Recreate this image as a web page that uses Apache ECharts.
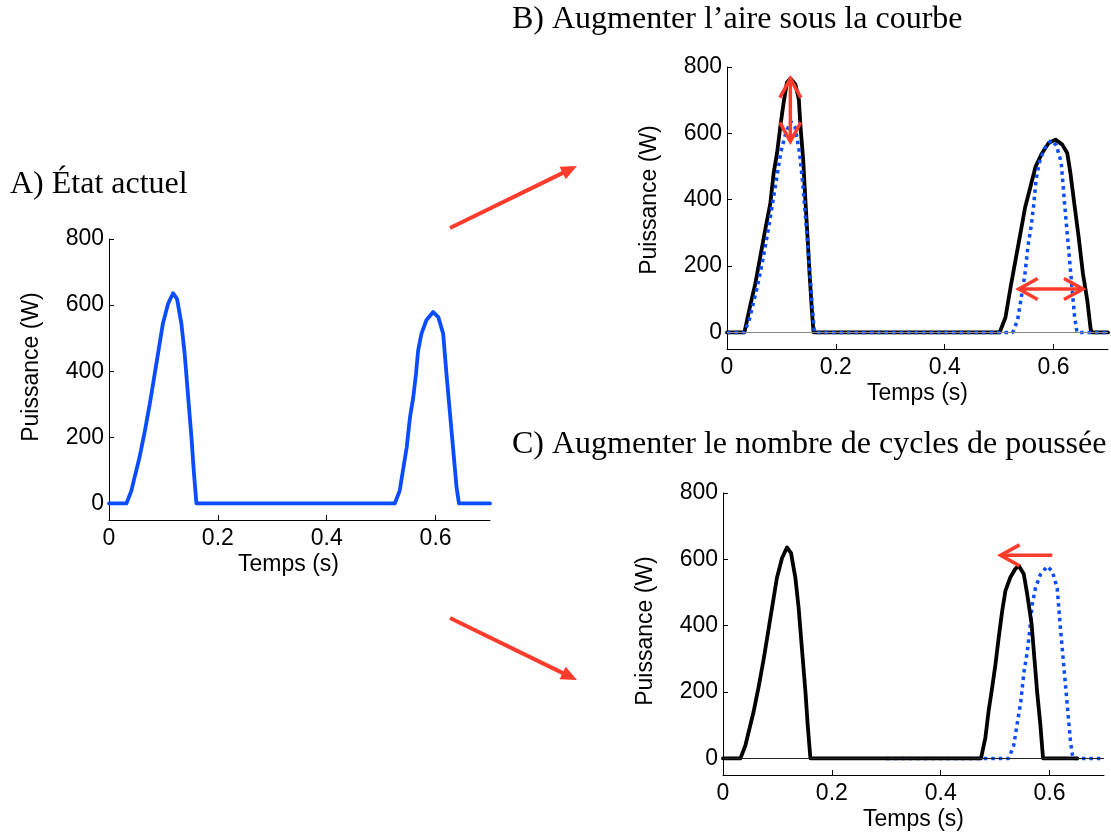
<!DOCTYPE html>
<html lang="fr">
<head>
<meta charset="utf-8">
<title>Puissance de poussée</title>
<script src="https://cdn.jsdelivr.net/npm/echarts@6.0.0/dist/echarts.min.js"></script>
<style>
  html, body { margin: 0; padding: 0; background: #fff; }
  #chart { width: 1111px; height: 839px; }
</style>
</head>
<body>
<div id="chart"></div>
<script>
// Power (W) against time (s) over one stroke cycle, two pushes per cycle.

// Current pattern: first and second push.
const actuelPoussee1 = [
  [0, 0], [0.032, 0], [0.041, 38], [0.047, 79], [0.056, 139], [0.066, 220],
  [0.075, 302], [0.081, 362], [0.090, 453], [0.099, 544], [0.1085, 604],
  [0.1176, 636], [0.125, 619], [0.133, 544], [0.139, 453], [0.145, 331],
  [0.1515, 200], [0.1557, 99], [0.1606, 0]
];
const actuelPoussee2 = [
  [0.3, 0], [0.525, 0], [0.534, 38], [0.540, 99], [0.547, 170], [0.553, 261],
  [0.559, 321], [0.564, 392], [0.568, 463], [0.574, 513], [0.583, 554],
  [0.5956, 579], [0.605, 564], [0.614, 513], [0.620, 392], [0.626, 281],
  [0.632, 170], [0.6386, 48], [0.643, 0], [0.7, 0]
];

// B) larger area under the curve: higher first push, wider second push.
const airePoussee1 = [
  [0, 0], [0.032, 0], [0.042, 76], [0.052, 147], [0.061, 227], [0.070, 308],
  [0.0796, 389], [0.0857, 480], [0.092, 541], [0.098, 621], [0.104, 692],
  [0.110, 753], [0.1164, 765], [0.1256, 748], [0.132, 702], [0.135, 621],
  [0.140, 520], [0.144, 399], [0.148, 288], [0.152, 167], [0.156, 66],
  [0.159, 0]
];
const airePoussee2 = [
  [0.501, 0], [0.5116, 45], [0.521, 136], [0.530, 217], [0.539, 298],
  [0.548, 379], [0.5575, 439], [0.567, 500], [0.579, 541], [0.591, 571],
  [0.6035, 581], [0.616, 566], [0.625, 541], [0.631, 480], [0.638, 389],
  [0.646, 288], [0.654, 177], [0.662, 96], [0.668, 11], [0.670, 0], [0.7, 0]
];

// C) more push cycles: the second push comes earlier.
const cyclesPoussee2 = [
  [0.474, 0], [0.482, 62], [0.488, 143], [0.4945, 213], [0.5006, 284],
  [0.5066, 365], [0.513, 445], [0.519, 506], [0.528, 546], [0.537, 571],
  [0.5434, 581], [0.5526, 556], [0.5588, 496], [0.567, 405], [0.572, 304],
  [0.577, 203], [0.583, 103], [0.588, 0], [0.651, 0]
];

// Red annotation arrows inside the plots: [t1, P1, t2, P2, double-headed]
const flechesB = [
  [0.1164, 576, 0.1164, 765, 1],
  [0.536, 131, 0.654, 131, 1]
];
const flechesC = [
  [0.605, 612, 0.51, 612, 0]
];

const ticksTemps = [0, 0.2, 0.4, 0.6];
const ticksPuissance = [0, 200, 400, 600, 800];

const titres = ['A) État actuel', 'B) Augmenter l\u2019aire sous la courbe',
                'C) Augmenter le nombre de cycles de poussée'];

const BLEU = '#0a4cff';
const ROUGE = '#ff3b2b';
const SANS = '"Liberation Sans", Arial, Helvetica, sans-serif';
const SERIF = '"Liberation Serif", "Times New Roman", serif';

const chart = echarts.init(document.getElementById('chart'), null, { renderer: 'canvas' });

const grids = [
  { left: 109, top: 239, width: 381, height: 281 },
  { left: 727, top: 67, width: 381, height: 282 },
  { left: 723, top: 493, width: 381, height: 282 }
];

function axeTemps(i, padding) {
  return {
    type: 'value', gridIndex: i, min: 0, max: 0.7,
    name: 'Temps (s)', nameLocation: 'middle', nameGap: 33,
    nameTextStyle: { fontFamily: SANS, fontSize: 23, color: '#000', padding: padding },
    axisLine: { show: true, onZero: false, lineStyle: { color: '#000', width: 1 } },
    axisTick: { show: true, inside: true, length: 5, customValues: ticksTemps,
                lineStyle: { color: '#000', width: 1 } },
    axisLabel: { customValues: ticksTemps, fontFamily: SANS, fontSize: 23, color: '#000',
                 margin: 7, formatter: v => String(v) },
    splitLine: { show: false }
  };
}

function axePuissance(i, padding) {
  return {
    type: 'value', gridIndex: i, min: -50, max: 800,
    name: 'Puissance (W)', nameLocation: 'middle', nameGap: 66, nameRotate: 90,
    nameTextStyle: { fontFamily: SANS, fontSize: 23, color: '#000', padding: padding },
    axisLine: { show: true, onZero: false, lineStyle: { color: '#000', width: 1 } },
    axisTick: { show: true, inside: true, length: 5, customValues: ticksPuissance,
                lineStyle: { color: '#000', width: 1 } },
    axisLabel: { customValues: ticksPuissance, fontFamily: SANS, fontSize: 23, color: '#000',
                 margin: 5, formatter: v => String(v) },
    splitLine: { show: false }
  };
}

function courbe(i, data, couleur, pointille, z) {
  return {
    type: 'line', xAxisIndex: i, yAxisIndex: i, data: data,
    showSymbol: false, symbol: 'none', smooth: false, silent: true, z: z,
    lineStyle: pointille
      ? { color: couleur, width: 3.5, type: [3.5, 4], cap: 'butt' }
      : { color: couleur, width: 3.8, join: 'round', cap: 'round' }
  };
}

function ligneZero(i, couleur) {
  return {
    type: 'line', xAxisIndex: i, yAxisIndex: i, data: [], silent: true, z: 1,
    markLine: {
      silent: true, symbol: 'none', animation: false,
      label: { show: false },
      lineStyle: { color: couleur, width: 1, type: 'solid' },
      data: [{ yAxis: 0 }]
    }
  };
}

// Shaft plus open chevron head(s), placed in data coordinates.
function fleches(i, data) {
  return {
    type: 'custom', xAxisIndex: i, yAxisIndex: i, data: data, z: 10, silent: true, clip: false,
    renderItem: function (params, api) {
      const p1 = api.coord([api.value(0), api.value(1)]);
      const p2 = api.coord([api.value(2), api.value(3)]);
      const dx = p2[0] - p1[0], dy = p2[1] - p1[1];
      const len = Math.sqrt(dx * dx + dy * dy);
      const ux = dx / len, uy = dy / len, nx = -uy, ny = ux;
      const L = 19, W = 10.5;
      const style = { stroke: ROUGE, lineWidth: 3.5, fill: null, lineJoin: 'miter', lineCap: 'butt' };
      function chevron(tip, sx, sy) {
        return {
          type: 'polyline',
          shape: { points: [
            [tip[0] - sx * L + nx * W, tip[1] - sy * L + ny * W],
            [tip[0], tip[1]],
            [tip[0] - sx * L - nx * W, tip[1] - sy * L - ny * W]
          ] },
          style: style
        };
      }
      const children = [
        { type: 'line', shape: { x1: p1[0], y1: p1[1], x2: p2[0], y2: p2[1] }, style: style },
        chevron(p2, ux, uy)
      ];
      if (api.value(4)) children.push(chevron(p1, -ux, -uy));
      return { type: 'group', children: children };
    }
  };
}

// Filled-head arrows linking panel A to panels B and C.
function grandeFleche(x1, y1, x2, y2) {
  const dx = x2 - x1, dy = y2 - y1;
  const len = Math.sqrt(dx * dx + dy * dy);
  const ux = dx / len, uy = dy / len, nx = -uy, ny = ux;
  const L = 16, W = 7;
  const bx = x2 - ux * L, by = y2 - uy * L;
  return [
    { type: 'line', shape: { x1: x1, y1: y1, x2: bx + ux * 2, y2: by + uy * 2 },
      style: { stroke: ROUGE, lineWidth: 4, lineCap: 'butt' }, silent: true },
    { type: 'polygon',
      shape: { points: [[x2, y2], [bx + nx * W, by + ny * W], [bx - nx * W, by - ny * W]] },
      style: { fill: ROUGE }, silent: true }
  ];
}

const option = {
  backgroundColor: '#fff',
  animation: false,
  grid: grids,
  xAxis: [axeTemps(0, [0, 22, 0, 0]), axeTemps(1, 0), axeTemps(2, 0)],
  yAxis: [axePuissance(0, [0, 0, 0, 25]), axePuissance(1, [0, 0, 0, 16]), axePuissance(2, [0, 0, 0, 6])],
  series: [
    // A
    courbe(0, actuelPoussee1.concat(actuelPoussee2), BLEU, false, 3),
    // B
    ligneZero(1, '#8a8a8a'),
    courbe(1, airePoussee1.concat(airePoussee2), '#000', false, 3),
    courbe(1, actuelPoussee1.concat(actuelPoussee2), BLEU, true, 4),
    fleches(1, flechesB),
    // C
    ligneZero(2, '#222'),
    courbe(2, actuelPoussee2, BLEU, true, 3),
    courbe(2, actuelPoussee1.concat(cyclesPoussee2), '#000', false, 4),
    fleches(2, flechesC)
  ],
  graphic: [
    { type: 'text', x: 10, y: 185,
      style: { text: titres[0], font: '32px ' + SERIF, fill: '#000', verticalAlign: 'middle' } },
    { type: 'text', x: 512, y: 20,
      style: { text: titres[1], font: '32px ' + SERIF, fill: '#000', verticalAlign: 'middle' } },
    { type: 'text', x: 512, y: 445,
      style: { text: titres[2], font: '32px ' + SERIF, fill: '#000', verticalAlign: 'middle' } }
  ].concat(grandeFleche(450, 228, 577, 166), grandeFleche(450, 618, 577, 680))
};

chart.setOption(option);
</script>
</body>
</html>
